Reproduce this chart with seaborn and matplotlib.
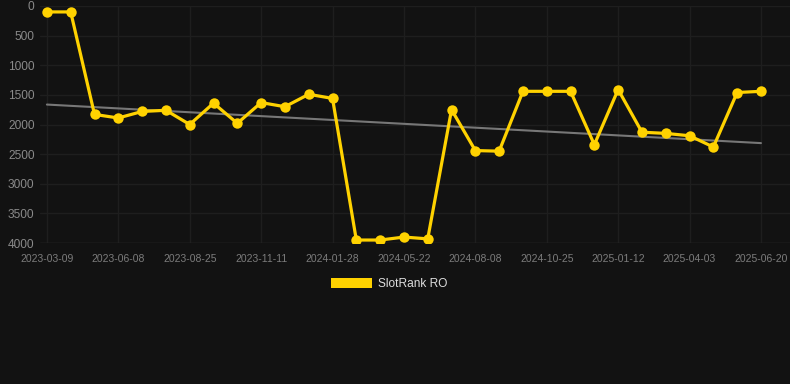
import numpy as np
import pandas as pd
import matplotlib
matplotlib.use('Agg')
import matplotlib.pyplot as plt
import seaborn as sns
from matplotlib.patches import Patch

# rank per snapshot (31 snapshots, every 3rd one labelled)
rank = [100, 100, 1830, 1890, 1780, 1760, 2000, 1640, 1980, 1630, 1700, 1490, 1560,
        3950, 3950, 3900, 3930, 1750, 2440, 2450, 1440, 1440, 1440, 2340, 1410,
        2130, 2150, 2190, 2380, 1460, 1440]
tick_labels = ['2023-03-09', '2023-06-08', '2023-08-25', '2023-11-11', '2024-01-28',
               '2024-05-22', '2024-08-08', '2024-10-25', '2025-01-12', '2025-04-03',
               '2025-06-20']
series_name = 'SlotRank RO'

bg = '#121212'
yellow = '#FFD200'

sns.set_style('dark')
plt.rcParams['font.family'] = ['Liberation Sans', 'DejaVu Sans']

df = pd.DataFrame({'idx': np.arange(len(rank)), 'rank': rank})

fig = plt.figure(figsize=(7.9, 3.84), dpi=100, facecolor=bg)
ax = fig.add_axes([40 / 790, 1 - 243 / 384, 750 / 790, 237 / 384])
ax.set_facecolor(bg)

# trend line (least squares)
coef = np.polyfit(df['idx'], df['rank'], 1)
trend = np.polyval(coef, df['idx'])
sns.lineplot(x=df['idx'], y=trend, ax=ax, color='#777777', linewidth=1.5, zorder=2)

sns.lineplot(data=df, x='idx', y='rank', ax=ax, color=yellow, linewidth=2.3,
             marker='o', markersize=7.5, markeredgewidth=0, zorder=3)

ax.set_xlim(-0.29, 31.22)
ax.set_ylim(4000, 0)
ax.set_yticks(np.arange(0, 4001, 500))
ax.set_xticks(np.arange(0, len(rank), 3))
ax.set_xticklabels(tick_labels)
ax.set_xlabel('')
ax.set_ylabel('')

ax.grid(True, color='#1e1e1e', linewidth=1)
ax.axhline(4000, color='#2c2c2c', linewidth=1, zorder=1)
for s in ax.spines.values():
    s.set_visible(False)
ax.tick_params(axis='x', colors='#1e1e1e', length=5, width=1, pad=3, labelsize=7.5,
               labelcolor='#7c7c7c')
ax.tick_params(axis='y', length=0, pad=4, labelsize=8.6, labelcolor='#8a8a8a')

fig.legend(handles=[Patch(facecolor=yellow, edgecolor='none', label=series_name)],
           loc='center', bbox_to_anchor=(0.493, 1 - 284 / 384), frameon=False,
           fontsize=8.6, labelcolor='#dddddd', handlelength=3.4, handleheight=1.0,
           handletextpad=0.5)

fig.savefig('out.png', dpi=100, facecolor=bg)
